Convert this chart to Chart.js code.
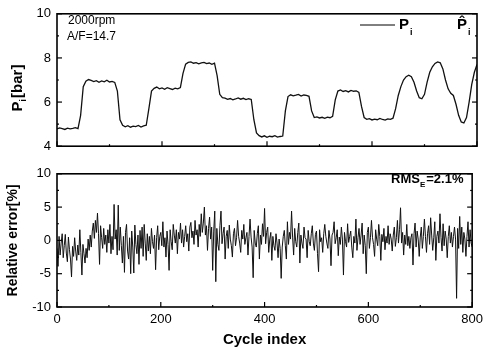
<!DOCTYPE html>
<html>
<head>
<meta charset="utf-8">
<script src="https://cdn.jsdelivr.net/npm/chart.js@4/dist/chart.umd.min.js"></script>
<style>
  html, body { margin: 0; padding: 0; background: #fff; }
  #wrap { position: relative; width: 488px; height: 349px; overflow: hidden; }
  canvas { position: absolute; left: 0; }
</style>
</head>
<body>
<div id="wrap">
  <canvas id="top" width="488" height="160" style="top:0"></canvas>
  <canvas id="bot" width="488" height="189" style="top:160px"></canvas>
</div>
<script>
// ---------- DATA ----------
const xTicks = [0, 200, 400, 600, 800];
const pTicks = [4, 6, 8, 10];
const errTicks = [-10, -5, 0, 5, 10];

// Measured indicated pressure P_i [bar], sampled every 5 cycles (0..800)
const piCycleStep = 5;
const piValues = [
  4.78, 4.83, 4.80, 4.76, 4.82, 4.79, 4.81, 4.84, 4.80, 5.40,
  6.70, 6.95, 7.02, 6.98, 6.93, 6.97, 6.90, 6.96, 6.92, 6.99,
  6.91, 6.94, 6.89, 6.50, 5.20, 4.95, 4.88, 4.93, 4.86, 4.91,
  4.89, 4.94, 4.87, 4.92, 4.95, 5.70, 6.50, 6.62, 6.68, 6.60,
  6.64, 6.58, 6.65, 6.61, 6.57, 6.63, 6.60, 6.66, 7.30, 7.72,
  7.80, 7.82, 7.76, 7.79, 7.73, 7.78, 7.80, 7.74, 7.77, 7.71,
  7.76, 7.20, 6.35, 6.20, 6.18, 6.12, 6.16, 6.10, 6.14, 6.19,
  6.13, 6.17, 6.11, 6.15, 6.12, 5.20, 4.60, 4.48, 4.42, 4.47,
  4.40, 4.45, 4.43, 4.48, 4.41, 4.44, 4.46, 5.60, 6.25, 6.33,
  6.28, 6.31, 6.35, 6.27, 6.32, 6.30, 6.26, 5.60, 5.30, 5.33,
  5.28, 5.31, 5.26, 5.32, 5.29, 5.35, 6.10, 6.50, 6.55, 6.48,
  6.52, 6.46, 6.53, 6.49, 6.51, 6.44, 5.80, 5.30, 5.22, 5.25,
  5.19, 5.23, 5.20, 5.26, 5.21, 5.18, 5.24, 5.22, 5.27, 5.70,
  6.30, 6.70, 7.00, 7.15, 7.22, 7.15, 6.90, 6.50, 6.20, 6.15,
  6.35, 6.90, 7.35, 7.60, 7.75, 7.82, 7.78, 7.50, 7.00, 6.60,
  6.40, 6.30, 5.90, 5.40, 5.10, 5.05, 5.30, 6.00, 6.80, 7.35,
  7.70
];

// Relative error [%], sampled every 2 cycles (0..800)
const errCycleStep = 2;
const errValues = [
  -1.2, -3.9, 0.6, -2.2, -0.4, 1.0, -2.6, -0.8, 0.9, -1.9, -3.2, 0.5, -1.4, -2.8, -5.5, -0.9, -2.4, 0.4, -1.6, -3.0,
  -0.7, -2.2, 1.6, -1.8, -5.2, -0.6, -2.0, -3.4, -1.2, -2.6, 0.2, -1.5, 0.8, -1.0, 1.4, 2.6, 0.3, 3.0, 1.2, 4.1,
  1.0, -3.6, 2.2, 0.4, -1.2, 1.8, -0.6, 0.8, -1.8, 1.6, -0.4, 2.4, -2.0, 0.6, -1.4, 5.4, 0.2, 1.6, -2.2, 5.3,
  -1.5, 2.0, -0.8, -3.4, 0.6, -4.8, 1.2, 2.4, -1.6, -2.8, 0.4, -5.0, 1.4, -1.0, -4.9, 2.3, -0.6, -2.0, 0.8, -3.6,
  1.5, -1.2, 2.0, -2.4, 2.4, -0.4, -3.0, 1.0, -1.6, 0.6, -2.0, 1.8, -0.2, -1.2, 0.8, -4.4, 0.4, 2.2, -1.4, 0.6,
  1.2, -0.8, 2.8, -1.0, 0.4, -2.5, 1.4, -0.6, -4.5, 1.6, -0.2, -1.4, 2.4, 0.8, -0.4, 1.6, -2.0, 1.2, 0.2, 2.6,
  -0.4, 1.6, -1.0, 0.6, 2.2, -0.2, 1.0, -1.6, 2.0, 2.7, 0.4, 1.4, -0.6, 3.0, 0.8, 1.6, -1.0, 2.4, 0.6, 4.0,
  1.2, 2.6, 5.0, 0.8, 2.2, -1.5, 1.8, 3.5, 0.2, 2.0, -4.5, 1.4, 4.4, -6.2, 1.8, -0.6, -1.5, 2.2, 4.4, -0.5,
  1.0, 2.0, -2.8, 0.6, 1.5, -1.2, 2.3, 0.2, -0.8, -2.5, 1.0, 1.8, -0.8, 0.4, 3.0, 0.6, -0.4, -1.8, 1.5, 0.2,
  2.4, -0.6, 0.4, 1.2, -2.2, 0.6, 3.2, 0.5, -1.0, -5.6, 1.5, -0.4, -1.0, 1.0, 2.2, -2.8, 0.8, -0.6, 2.5, 0.6,
  4.8, -0.5, 1.2, 2.0, -1.8, 0.2, 1.2, -3.0, 0.6, -0.8, -1.5, 1.0, -0.4, -2.6, 0.2, -1.2, -5.7, -1.0, 0.6, 1.5,
  -0.8, -2.8, 2.8, -0.6, 1.2, 0.2, 4.4, 0.5, -2.2, 1.8, -0.2, -1.0, 1.2, 2.6, -3.4, 0.8, -0.4, -1.2, 2.0, 0.4,
  0.2, -2.6, 1.5, -0.2, -0.8, 1.0, 2.2, -0.4, -1.5, 0.9, 1.4, -2.0, -4.7, 1.6, -0.2, 0.4, -1.8, 1.0, 2.4, 0.6,
  -0.4, -1.2, 1.5, 0.2, -3.8, 0.8, 1.2, 2.8, -0.5, 0.4, 1.6, -2.3, 0.5, -0.6, 2.0, 0.2, -5.2, 1.2, -0.2, -1.0,
  2.5, -0.3, 0.6, 1.4, -1.0, -2.6, 0.6, -0.4, 3.2, -1.5, 0.4, 1.8, -0.6, 0.8, 2.6, -2.0, 0.8, -0.8, -5.0, 1.2,
  2.0, -1.2, 0.4, 3.0, 0.4, -0.6, -2.4, 1.6, 0.2, -0.8, 2.4, 0.6, -3.0, 0.9, -0.2, 1.8, -1.4, 0.6, -0.4, 2.2,
  -0.6, 1.0, 0.2, -1.6, 0.8, 2.0, -0.9, 0.4, 3.0, -0.4, 1.6, 4.9, -0.4, 1.2, -2.2, 0.8, -0.6, 2.4, -0.8, 0.6,
  -1.2, 0.4, 1.0, -3.7, 1.0, 2.6, -1.0, 1.4, 0.2, -2.4, 0.5, 2.0, -1.2, 0.6, 3.2, 0.6, -1.8, 1.0, 2.2, -0.6,
  3.4, 0.8, -1.5, 0.4, 2.8, -3.0, 0.6, 1.4, -0.4, 4.0, 0.4, -1.6, 2.5, -0.8, 1.4, 0.2, -2.6, 0.6, 2.2, -0.4,
  1.2, -1.0, 0.6, 2.0, 0.2, -8.7, 1.8, -1.2, 3.6, -0.6, 2.0, -1.8, 1.2, 0.2, -2.4, 0.6, 2.8, -1.0, 1.6, -0.4,
  -1.0
];

const piPoints = piValues.map((v, i) => ({ x: i * piCycleStep, y: v }));
const errPoints = errValues.map((v, i) => ({ x: i * errCycleStep, y: v }));

// ---------- STYLE ----------
const FONT = "'Liberation Sans', Arial, Helvetica, sans-serif";
const PLOT_LEFT = 57;
const PLOT_RIGHT_PAD = 11;

const framePlugin = {
  id: 'frame',
  afterDatasetsDraw(chart, args, opts) {
    const { ctx, chartArea: a, scales } = chart;
    ctx.save();
    ctx.strokeStyle = '#000';
    ctx.lineWidth = 1.6;
    ctx.strokeRect(a.left, a.top, a.right - a.left, a.bottom - a.top);
    ctx.lineWidth = 1.2;
    const xs = scales.x;
    for (let v = xs.min; v <= xs.max; v += opts.xMinor) {
      const px = xs.getPixelForValue(v);
      const major = (v % opts.xMajor) === 0;
      const len = major ? 5 : 2;
      ctx.beginPath(); ctx.moveTo(px, a.bottom); ctx.lineTo(px, a.bottom - len); ctx.stroke();
    }
    const ys = scales.y;
    for (let v = ys.min; v <= ys.max + 1e-9; v += opts.yMinor) {
      const py = ys.getPixelForValue(v);
      const major = Math.abs((v - ys.min) % opts.yMajor) < 1e-9;
      const len = major ? 5 : 2;
      ctx.beginPath(); ctx.moveTo(a.left, py); ctx.lineTo(a.left + len, py); ctx.stroke();
      ctx.beginPath(); ctx.moveTo(a.right, py); ctx.lineTo(a.right - len, py); ctx.stroke();
    }
    ctx.restore();
  }
};

const topTextPlugin = {
  id: 'topText',
  afterDraw(chart) {
    const { ctx } = chart;
    ctx.save();
    ctx.fillStyle = '#000';
    ctx.textBaseline = 'middle';
    ctx.textAlign = 'left';
    ctx.font = '12px ' + FONT;
    ctx.fillText('2000rpm', 68, 21);
    ctx.fillText('A/F=14.7', 67, 37);
    // legend
    ctx.strokeStyle = '#000'; ctx.lineWidth = 1;
    ctx.beginPath(); ctx.moveTo(360, 25); ctx.lineTo(395, 25); ctx.stroke();
    ctx.font = 'bold 15px ' + FONT;
    ctx.fillText('P', 399, 25);
    ctx.font = 'bold 9px ' + FONT;
    ctx.fillText('i', 410, 33);
    ctx.font = 'bold 15px ' + FONT;
    ctx.fillText('P\u0302', 457, 25);
    ctx.font = 'bold 9px ' + FONT;
    ctx.fillText('i', 468, 33);
    // y title: P_i [bar]
    ctx.translate(18, 88);
    ctx.rotate(-Math.PI / 2);
    ctx.textAlign = 'left';
    ctx.font = 'bold 15px ' + FONT;
    const w1 = ctx.measureText('P').width;
    ctx.font = 'bold 9px ' + FONT;
    const w2 = ctx.measureText('i').width;
    ctx.font = 'bold 15px ' + FONT;
    const w3 = ctx.measureText('[bar]').width;
    const total = w1 + w2 + 1 + w3;
    const x0 = -total / 2;
    ctx.fillText('P', x0, 0);
    ctx.font = 'bold 9px ' + FONT;
    ctx.fillText('i', x0 + w1, 6);
    ctx.font = 'bold 15px ' + FONT;
    ctx.fillText('[bar]', x0 + w1 + w2 + 1, 0);
    ctx.restore();
  }
};

const botTextPlugin = {
  id: 'botText',
  afterDraw(chart) {
    const { ctx } = chart;
    ctx.save();
    ctx.fillStyle = '#000';
    ctx.textBaseline = 'middle';
    ctx.textAlign = 'left';
    let x = 391; const y = 19;
    ctx.font = 'bold 13px ' + FONT;
    ctx.fillText('RMS', x, y); x += ctx.measureText('RMS').width;
    ctx.font = 'bold 8px ' + FONT;
    ctx.fillText('E', x, y + 6); x += ctx.measureText('E').width + 1;
    ctx.font = 'bold 13px ' + FONT;
    ctx.fillText('=2.1%', x, y);
    ctx.restore();
  }
};

const tickFont = { family: FONT, size: 13 };

new Chart(document.getElementById('top'), {
  type: 'line',
  data: { datasets: [{
    label: 'Pi', data: piPoints, borderColor: '#111', borderWidth: 1.3,
    pointRadius: 0, tension: 0, fill: false
  }]},
  options: {
    responsive: false, animation: false, devicePixelRatio: 1,
    layout: { padding: { top: 12, right: PLOT_RIGHT_PAD, left: 0, bottom: 0 } },
    plugins: { legend: { display: false }, tooltip: { enabled: false },
      frame: { xMajor: 200, xMinor: 100, yMajor: 2, yMinor: 1 } },
    scales: {
      x: { type: 'linear', min: 0, max: 800,
        ticks: { display: false, stepSize: 200 },
        grid: { display: false, drawTicks: false }, border: { display: false },
        afterFit: s => { s.height = 11; } },
      y: { min: 4, max: 10,
        afterBuildTicks: s => { s.ticks = pTicks.map(v => ({ value: v })); },
        ticks: { font: tickFont, color: '#000', padding: 6 },
        grid: { display: false, drawTicks: false }, border: { display: false },
        afterFit: s => { s.width = PLOT_LEFT; } }
    }
  },
  plugins: [framePlugin, topTextPlugin]
});

new Chart(document.getElementById('bot'), {
  type: 'line',
  data: { datasets: [{
    label: 'Relative error', data: errPoints, borderColor: '#111', borderWidth: 1,
    pointRadius: 0, tension: 0, fill: false
  }]},
  options: {
    responsive: false, animation: false, devicePixelRatio: 1,
    layout: { padding: { top: 9, right: PLOT_RIGHT_PAD, left: 0, bottom: 0 } },
    plugins: { legend: { display: false }, tooltip: { enabled: false },
      frame: { xMajor: 200, xMinor: 100, yMajor: 5, yMinor: 2.5 } },
    scales: {
      x: { type: 'linear', min: 0, max: 800,
        afterBuildTicks: s => { s.ticks = xTicks.map(v => ({ value: v })); },
        ticks: { font: tickFont, color: '#000', padding: 5, maxRotation: 0 },
        grid: { display: false, drawTicks: false }, border: { display: false },
        title: { display: true, text: 'Cycle index', color: '#000',
          font: { family: FONT, size: 15, weight: 'bold' }, padding: { top: 0, bottom: 0 } },
        afterFit: s => { s.height = 42; } },
      y: { min: -10, max: 10,
        afterBuildTicks: s => { s.ticks = errTicks.map(v => ({ value: v })); },
        ticks: { font: tickFont, color: '#000', padding: 6 },
        grid: { display: false, drawTicks: false }, border: { display: false },
        title: { display: true, text: 'Relative error[%]', color: '#000',
          font: { family: FONT, size: 14, weight: 'bold' }, padding: { top: 5, bottom: 0 } },
        afterFit: s => { s.width = PLOT_LEFT; } }
    }
  },
  plugins: [framePlugin, botTextPlugin]
});
</script>
</body>
</html>
